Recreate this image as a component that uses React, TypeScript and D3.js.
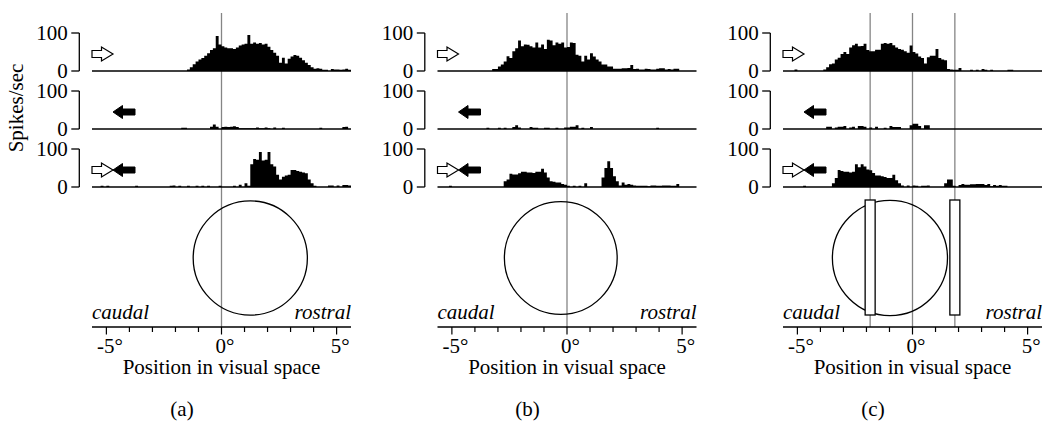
import React from "react";
import * as d3 from "d3";

// ---- data ----
const BIN_WIDTH = 0.125; // degrees per histogram bin
const X_START = -5.625; // left edge of first bin (deg)
const X_END = 5.625;

const aTop = [
  0,0,0,0,0,0,0,0,0,0,
  0,0,0,0,0,0,0,0,0,0,
  0,0,0,0,0,0,0,0,0,0,
  0,0,0,4,10,18,25,30,34,40,
  47,55,60,92,70,65,62,60,60,58,
  62,67,70,72,95,72,75,72,74,70,
  72,64,55,48,40,22,35,20,32,38,
  42,40,35,28,22,16,10,6,7,6,
  3,3,0,5,4,4,3,4,6,3,
];
const aMid = [
  0,0,0,0,0,0,0,0,0,0,
  0,0,0,0,0,0,0,0,0,0,
  0,0,0,0,0,0,0,0,0,0,
  0,3,3,0,0,0,0,0,0,0,
  0,6,12,6,0,5,6,5,6,7,
  5,2,2,2,2,2,2,4,2,2,
  4,2,0,4,0,0,3,0,0,0,
  0,0,0,0,0,0,0,0,0,3,
  0,0,0,0,0,0,0,5,6,0,
];
const aBot = [
  0,0,0,3,0,3,0,0,0,0,
  0,0,0,0,0,3,0,0,0,0,
  0,0,0,0,0,0,0,3,4,0,
  3,0,0,3,0,0,3,0,3,0,
  3,0,0,0,3,0,0,0,0,3,
  0,6,0,10,3,60,74,72,92,70,
  72,92,60,54,32,20,27,30,32,45,
  45,42,40,38,36,20,10,3,0,0,
  0,0,4,4,0,4,0,5,5,4,
];

const bTop = [
  0,0,0,0,0,0,0,0,0,0,
  0,0,0,0,0,0,0,0,0,5,
  5,12,17,25,39,34,52,60,80,65,
  70,69,65,62,75,62,70,58,82,80,
  68,75,72,75,62,63,75,74,43,40,
  25,40,30,47,38,30,25,17,17,12,
  12,6,6,6,7,7,8,16,5,6,
  4,4,6,5,4,4,6,7,7,4,
  5,4,6,6,0,0,0,0,0,0,
];
const bMid = [
  0,0,0,0,0,0,0,0,0,0,
  0,0,0,0,0,0,0,3,0,0,
  0,3,0,3,0,0,5,10,4,0,
  0,0,5,3,3,0,0,3,3,0,
  0,3,0,0,4,4,6,6,10,0,
  3,0,0,5,0,0,0,0,0,0,
  0,0,0,0,0,0,0,0,0,0,
  0,0,0,0,0,0,3,0,0,0,
  0,0,0,0,0,0,0,0,0,0,
];
const bBot = [
  0,0,0,0,3,0,0,0,0,0,
  0,0,0,0,0,0,0,0,0,0,
  0,0,0,15,20,35,33,33,36,40,
  40,38,38,37,40,40,48,38,25,15,
  14,12,12,8,6,3,0,3,0,3,
  0,10,0,0,0,0,0,25,50,68,
  50,28,15,4,12,6,8,6,4,3,
  3,3,3,2,4,4,3,3,4,4,
  4,3,3,8,0,0,0,0,0,0,
];

const cTop = [
  0,0,0,0,4,0,0,0,0,0,
  0,0,0,0,4,10,18,20,30,35,
  45,50,45,62,68,72,65,66,72,55,
  52,52,56,56,72,74,72,74,68,62,
  58,56,52,48,67,50,46,38,34,20,
  36,40,40,58,34,30,28,5,4,3,
  3,8,0,0,0,3,0,3,0,5,
  3,0,3,0,0,0,0,0,3,3,
  0,0,0,0,0,0,0,0,0,0,
];
const cMid = [
  0,0,0,0,0,0,0,0,0,0,
  0,0,0,0,0,6,6,0,4,6,
  6,8,0,4,6,0,8,8,6,0,
  4,0,6,0,0,3,0,8,5,5,
  5,0,0,0,10,14,14,8,0,10,
  10,0,0,0,0,0,0,0,0,0,
  0,0,0,0,0,0,0,0,0,0,
  0,0,0,0,0,0,0,0,0,0,
  0,0,0,0,0,0,0,0,0,0,
];
const cBot = [
  0,0,0,0,0,0,0,3,0,0,
  0,0,0,0,0,0,0,10,24,45,
  42,40,40,38,40,60,52,60,54,46,
  44,37,30,30,28,26,24,24,32,18,
  10,4,0,4,0,4,3,0,3,3,
  4,0,0,0,0,0,10,20,20,3,
  0,5,8,6,6,7,7,8,8,8,
  5,8,2,5,3,5,3,3,0,0,
  0,0,0,0,0,0,0,0,0,0,
];

const panelLabels = ["(a)", "(b)", "(c)"];
const panelHistograms = [
  [aTop, aMid, aBot],
  [bTop, bMid, bBot],
  [cTop, cMid, cBot],
];
// stimulus directions per row: "right" = open arrow, "left" = filled arrow
const rowArrows = [["right"], ["left"], ["right", "left"]];
const yTicks = [0, 100];
const xTicks = [-5, -4, -3, -2, -1, 0, 1, 2, 3, 4, 5];
const xTickLabels = ["-5°", "0°", "5°"];
const xLabeledTicks = [-5, 0, 5];
const circleCenters = [1.25, -0.27, -0.98]; // deg
const circleRadii = [2.48, 2.45, 2.5]; // deg
const referenceLines = [[0], [0], [-1.84, 0, 1.84]]; // deg
const barStimuli = [[], [], [-1.84, 1.84]]; // deg

// ---- layout ----
const W = 1043;
const H = 422;
const PANEL_DX = 345.5;
const PLOT_LEFT = 92;
const PLOT_RIGHT = 351;
const ROW_BASE = [71, 129, 187];
const ROW_H = 38; // px per 100 spikes/sec
const AXIS_Y = 327;
const FONT = "'Liberation Serif', 'Times New Roman', serif";
const FS = 21;

function Arrow({ dir, x0, cy }: { dir: string; x0: number; cy: number }) {
  if (dir === "right") {
    const tail = x0, hb = x0 + 9.5, tip = x0 + 21;
    const d = `M${tail},${cy - 3.5}L${hb},${cy - 3.5}L${hb},${cy - 7}L${tip},${cy}L${hb},${cy + 7}L${hb},${cy + 3.5}L${tail},${cy + 3.5}Z`;
    return <path d={d} fill="#fff" stroke="#000" strokeWidth={1.2} strokeLinejoin="miter" />;
  }
  const tip = x0 + 21, hb = tip + 9.5, tail = tip + 22;
  const d = `M${tail},${cy - 3}L${hb},${cy - 3}L${hb},${cy - 6.5}L${tip},${cy}L${hb},${cy + 6.5}L${hb},${cy + 3}L${tail},${cy + 3}Z`;
  return <path d={d} fill="#000" stroke="#000" strokeWidth={1} />;
}

function Panel({ index }: { index: number }) {
  const dx = index * PANEL_DX;
  const x = d3.scaleLinear().domain([X_START, X_END]).range([PLOT_LEFT + dx, PLOT_RIGHT + dx]);
  const pxPerDeg = x(1) - x(0);
  const hists = panelHistograms[index];
  const yAxisX = 79.3 + dx;

  return (
    <g>
      {referenceLines[index].map((v, i) => (
        <line key={"r" + i} x1={x(v)} x2={x(v)} y1={13} y2={AXIS_Y} stroke="#858585" strokeWidth={1.3} />
      ))}
      {hists.map((vals, r) => {
        const y = d3.scaleLinear().domain([0, 100]).range([ROW_BASE[r], ROW_BASE[r] - ROW_H]);
        const mid = (y(0) + y(100)) / 2 + 2;
        const pts: [number, number][] = vals.map((v, i) => [X_START + i * BIN_WIDTH, v]);
        pts.push([X_END, 0]);
        const area = d3
          .area<[number, number]>()
          .x((p) => x(p[0]))
          .y0(y(0))
          .y1((p) => y(p[1]))
          .curve(d3.curveStepAfter);
        return (
          <g key={"row" + r}>
            <path d={area(pts) || ""} fill="#000" />
            <line x1={x(X_START)} x2={x(X_END)} y1={y(0)} y2={y(0)} stroke="#000" strokeWidth={1.5} />
            <line x1={yAxisX} x2={yAxisX} y1={y(100)} y2={y(0)} stroke="#000" strokeWidth={1.3} />
            {yTicks.map((t) => (
              <g key={t}>
                <line x1={yAxisX - 8} x2={yAxisX} y1={y(t)} y2={y(t)} stroke="#000" strokeWidth={1.3} />
                <text x={yAxisX - 11.5} y={y(t) + 7} textAnchor="end" fontFamily={FONT} fontSize={FS}>
                  {t}
                </text>
              </g>
            ))}
            {rowArrows[r].map((a) => (
              <Arrow key={a} dir={a} x0={PLOT_LEFT + dx} cy={mid} />
            ))}
          </g>
        );
      })}
      <circle
        cx={x(circleCenters[index])}
        cy={258}
        r={circleRadii[index] * pxPerDeg}
        fill="none"
        stroke="#000"
        strokeWidth={1.3}
      />
      {barStimuli[index].map((v, i) => (
        <rect key={"b" + i} x={x(v) - 5} width={10} y={200} height={115} fill="#fff" stroke="#000" strokeWidth={1.3} />
      ))}
      <line x1={x(X_START)} x2={x(X_END)} y1={AXIS_Y} y2={AXIS_Y} stroke="#000" strokeWidth={1.5} />
      {xTicks.map((t) => (
        <line
          key={t}
          x1={x(t)}
          x2={x(t)}
          y1={AXIS_Y}
          y2={AXIS_Y + (xLabeledTicks.includes(t) ? 7.5 : 5)}
          stroke="#000"
          strokeWidth={1.2}
        />
      ))}
      {xLabeledTicks.map((t, i) => (
        <text key={t} x={x(t) + 3.5} y={353} textAnchor="middle" fontFamily={FONT} fontSize={FS}>
          {xTickLabels[i]}
        </text>
      ))}
      <text x={PLOT_LEFT + dx} y={319} fontFamily={FONT} fontSize={FS} fontStyle="italic">
        caudal
      </text>
      <text x={PLOT_RIGHT + dx} y={319} textAnchor="end" fontFamily={FONT} fontSize={FS} fontStyle="italic">
        rostral
      </text>
      <text x={x(0)} y={374} textAnchor="middle" fontFamily={FONT} fontSize={FS}>
        Position in visual space
      </text>
      <text x={182 + dx} y={416} textAnchor="middle" fontFamily={FONT} fontSize={FS}>
        {panelLabels[index]}
      </text>
    </g>
  );
}

export default function App() {
  return (
    <div style={{ position: "absolute", left: 0, top: 0 }}>
      <svg width={W} height={H} viewBox={`0 0 ${W} ${H}`} style={{ display: "block", background: "#fff" }}>
        <rect width={W} height={H} fill="#fff" />
        <text transform="translate(23,108) rotate(-90)" textAnchor="middle" fontFamily={FONT} fontSize={FS}>
          Spikes/sec
        </text>
        {[0, 1, 2].map((i) => (
          <Panel key={i} index={i} />
        ))}
      </svg>
    </div>
  );
}
